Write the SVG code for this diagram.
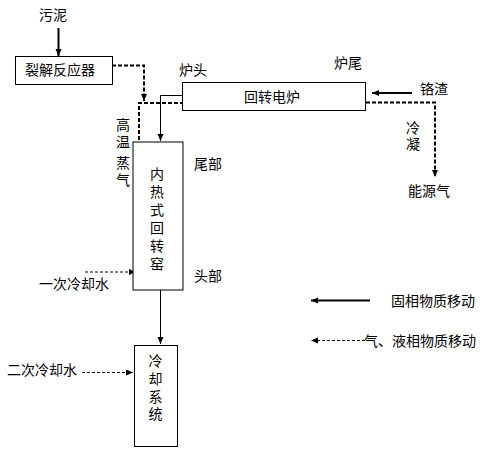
<svg xmlns="http://www.w3.org/2000/svg" width="484" height="455" viewBox="0 0 484 455">
<style>
text{font-family:"Noto Sans CJK SC","Liberation Sans",sans-serif;font-size:14px;fill:#000}
.v{writing-mode:vertical-rl}
.box{fill:#fff;stroke:#000;stroke-width:1}
.s1{fill:none;stroke:#000;stroke-width:1}
.s2{fill:none;stroke:#000;stroke-width:2}
.d2{fill:none;stroke:#000;stroke-width:2;stroke-dasharray:4 2}
.d1{fill:none;stroke:#000;stroke-width:1;stroke-dasharray:3 2}
</style>
<defs>
<marker id="ah" markerUnits="userSpaceOnUse" markerWidth="8" markerHeight="8" viewBox="0 0 8 8" refX="7" refY="4" orient="auto">
<path d="M0,1 L7,4 L0,7 Z" fill="#000"/>
</marker>
</defs>
<rect width="484" height="455" fill="#fff"/>
<g id="connectors">
<path class="s2" d="M58.5,28 V56" marker-end="url(#ah)"/>
<path class="d2" d="M112,65.5 H144 V101" marker-end="url(#ah)"/>
<path class="d2" d="M139,272 V103 H198" marker-end="url(#ah)"/>
<path class="s1" d="M182,95.5 H160.5 V141" marker-end="url(#ah)"/>
<path class="s2" d="M412,93 H372" marker-end="url(#ah)"/>
<path class="d2" d="M366,102.5 H435 V177" marker-end="url(#ah)"/>
<path class="d1" d="M85,272 H136" marker-end="url(#ah)"/>
<path class="s1" d="M160.5,290 V344" marker-end="url(#ah)"/>
<path class="d1" d="M82,372.5 H133" marker-end="url(#ah)"/>
<path class="s2" d="M370,300.5 H311" marker-end="url(#ah)"/>
<path class="d1" d="M365,340.5 H311" marker-end="url(#ah)"/>
</g>
<g id="sludge"><text x="53" y="20" text-anchor="middle">污泥</text></g>
<g id="reactor">
<rect class="box" x="15.5" y="56.5" width="97" height="28"/>
<text x="60" y="75" text-anchor="middle">裂解反应器</text>
</g>
<g id="furnace">
<rect class="box" x="182.5" y="82.5" width="183" height="28"/>
<text x="272" y="101.5" text-anchor="middle">回转电炉</text>
</g>
<g id="kiln">
<rect class="box" x="133" y="142" width="50" height="148"/>
<text class="v" x="157" y="167" style="letter-spacing:4px">内热式回转窑</text>
</g>
<g id="cooling">
<rect class="box" x="134.5" y="345.5" width="43" height="101"/>
<text class="v" x="155.5" y="354" style="letter-spacing:3.7px">冷却系统</text>
</g>
<g id="labels">
<text x="193" y="75" text-anchor="middle">炉头</text>
<text x="348" y="68" text-anchor="middle">炉尾</text>
<text x="434" y="94" text-anchor="middle">铬渣</text>
<text class="v" x="413" y="120.5" style="letter-spacing:2.5px">冷凝</text>
<text x="429" y="196" text-anchor="middle">能源气</text>
<text class="v" x="123" y="117.5" style="letter-spacing:3px">高温</text>
<text class="v" x="123" y="156" style="letter-spacing:3px">蒸气</text>
<text x="208" y="169" text-anchor="middle">尾部</text>
<text x="208" y="281" text-anchor="middle">头部</text>
<text x="74" y="289" text-anchor="middle">一次冷却水</text>
<text x="42" y="375" text-anchor="middle">二次冷却水</text>
<text x="475" y="305.5" text-anchor="end">固相物质移动</text>
<text x="476" y="345.5" text-anchor="end">气、液相物质移动</text>
</g>
</svg>
